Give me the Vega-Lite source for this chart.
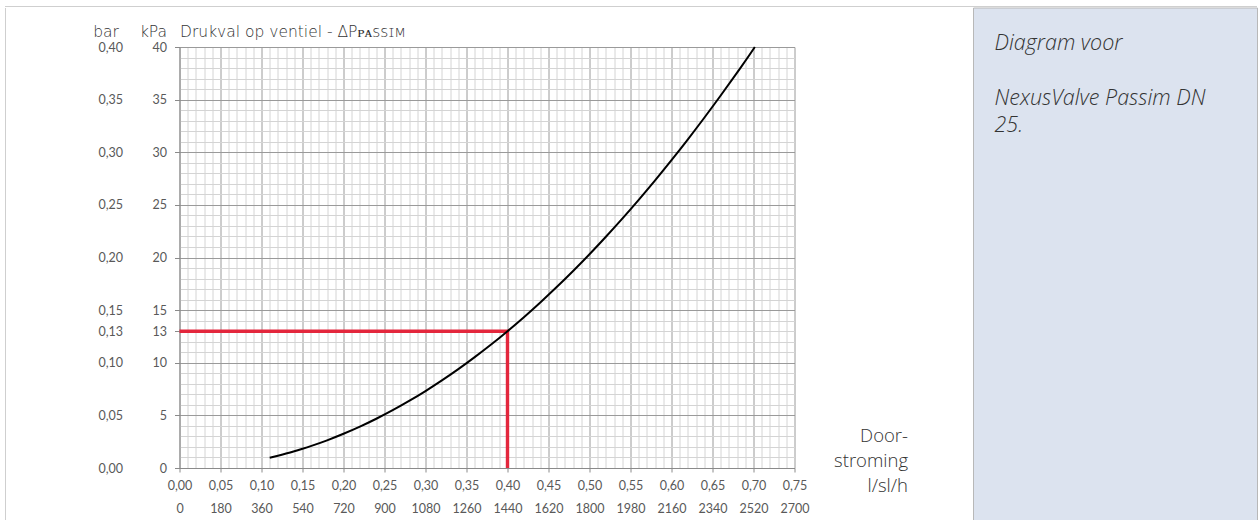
{
  "$schema": "https://vega.github.io/schema/vega-lite/v6.json",
  "padding": {"left": 5, "top": 6, "right": 0, "bottom": 0},
  "config": {
    "font": "Open Sans",
    "view": {"stroke": null},
    "axis": {
      "labelFont": "Lato",
      "labelFontSize": 12.5,
      "labelColor": "#595959",
      "titleFont": "Open Sans",
      "titleFontWeight": 300,
      "titleColor": "#333333",
      "titleFontSize": 17
    }
  },
  "spacing": 0,
  "vconcat": [
    {
      "width": 1252,
      "height": 1,
      "data": {"values": [{}]},
      "mark": {"type": "rect", "fill": "#cfcfcf"}
    },
    {
      "columns": 2,
      "align": "none",
      "spacing": 86.5,
      "concat": [
        {
          "width": 1,
          "height": 513,
          "data": {"values": [{}]},
          "mark": {"type": "rect", "fill": "#cfcfcf"}
        },
        {
          "columns": 2,
          "align": "none",
          "spacing": 65,
          "concat": [
            {
              "spacing": 0,
              "vconcat": [
                {
                  "width": 1,
                  "height": 16,
                  "data": {"values": [{}]},
                  "mark": {"type": "rect", "opacity": 0}
                },
                {
                  "width": 615,
                  "height": 421,
                  "layer": [
                    {
                      "data": {
                        "values": [
                          {"punt": 1, "debiet": 0, "kPa": 13},
                          {"punt": 2, "debiet": 0.4, "kPa": 13},
                          {"punt": 3, "debiet": 0.4, "kPa": 0}
                        ]
                      },
                      "mark": {"type": "line", "color": "#e3263c", "strokeWidth": 3.4, "strokeJoin": "miter", "strokeCap": "butt"},
                      "encoding": {
                        "x": {
                          "field": "debiet",
                          "type": "quantitative",
                          "axis": {
                            "orient": "top",
                            "domain": false,
                            "ticks": false,
                            "labels": false,
                            "grid": false,
                            "title": "Drukval op ventiel - ΔPᴘᴀꜱꜱɪᴍ",
                            "titleFont": "DejaVu Sans",
                            "titleFontWeight": 200,
                            "titleFontSize": 15.5,
                            "titleAngle": 0,
                            "titleAlign": "left",
                            "titleBaseline": "alphabetic",
                            "titleX": 0,
                            "titleY": -11
                          }
                        },
                        "y": {
                          "field": "kPa",
                          "type": "quantitative",
                          "axis": {
                            "orient": "left",
                            "values": [0, 5, 10, 13, 15, 20, 25, 30, 35, 40],
                            "domain": false,
                            "ticks": false,
                            "grid": false,
                            "labelPadding": 57,
                            "labelExpr": "replace(format(datum.value / 100, '.2f'), '.', ',')",
                            "title": "bar",
                            "titleFont": "DejaVu Sans",
                            "titleFontWeight": 200,
                            "titleFontSize": 15.5,
                            "titleAngle": 0,
                            "titleAlign": "right",
                            "titleBaseline": "alphabetic",
                            "titleX": -61,
                            "titleY": -11
                          }
                        },
                        "order": {"field": "punt"}
                      }
                    },
                    {
                      "data": {
                        "values": [
                          {"debiet": 0.11, "kPa": 0.98},
                          {"debiet": 0.12, "kPa": 1.17},
                          {"debiet": 0.13, "kPa": 1.37},
                          {"debiet": 0.14, "kPa": 1.59},
                          {"debiet": 0.15, "kPa": 1.83},
                          {"debiet": 0.16, "kPa": 2.08},
                          {"debiet": 0.18, "kPa": 2.63},
                          {"debiet": 0.2, "kPa": 3.25},
                          {"debiet": 0.22, "kPa": 3.93},
                          {"debiet": 0.24, "kPa": 4.68},
                          {"debiet": 0.26, "kPa": 5.49},
                          {"debiet": 0.28, "kPa": 6.37},
                          {"debiet": 0.3, "kPa": 7.31},
                          {"debiet": 0.32, "kPa": 8.32},
                          {"debiet": 0.34, "kPa": 9.39},
                          {"debiet": 0.36, "kPa": 10.53},
                          {"debiet": 0.38, "kPa": 11.73},
                          {"debiet": 0.4, "kPa": 13.0},
                          {"debiet": 0.42, "kPa": 14.33},
                          {"debiet": 0.44, "kPa": 15.73},
                          {"debiet": 0.46, "kPa": 17.19},
                          {"debiet": 0.48, "kPa": 18.72},
                          {"debiet": 0.5, "kPa": 20.31},
                          {"debiet": 0.52, "kPa": 21.97},
                          {"debiet": 0.54, "kPa": 23.69},
                          {"debiet": 0.56, "kPa": 25.48},
                          {"debiet": 0.58, "kPa": 27.33},
                          {"debiet": 0.6, "kPa": 29.25},
                          {"debiet": 0.62, "kPa": 31.23},
                          {"debiet": 0.64, "kPa": 33.28},
                          {"debiet": 0.66, "kPa": 35.39},
                          {"debiet": 0.68, "kPa": 37.57},
                          {"debiet": 0.7, "kPa": 39.81},
                          {"debiet": 0.7016, "kPa": 40.0}
                        ]
                      },
                      "mark": {"type": "line", "color": "#000000", "strokeWidth": 2, "interpolate": "monotone"},
                      "encoding": {
                        "x": {
                          "field": "debiet",
                          "type": "quantitative",
                          "scale": {"domain": [0, 0.75], "nice": false, "zero": false},
                          "axis": {
                            "orient": "bottom",
                            "values": [0, 0.01, 0.02, 0.03, 0.04, 0.05, 0.06, 0.07, 0.08, 0.09, 0.1, 0.11, 0.12, 0.13, 0.14, 0.15, 0.16, 0.17, 0.18, 0.19, 0.2, 0.21, 0.22, 0.23, 0.24, 0.25, 0.26, 0.27, 0.28, 0.29, 0.3, 0.31, 0.32, 0.33, 0.34, 0.35, 0.36, 0.37, 0.38, 0.39, 0.4, 0.41, 0.42, 0.43, 0.44, 0.45, 0.46, 0.47, 0.48, 0.49, 0.5, 0.51, 0.52, 0.53, 0.54, 0.55, 0.56, 0.57, 0.58, 0.59, 0.6, 0.61, 0.62, 0.63, 0.64, 0.65, 0.66, 0.67, 0.68, 0.69, 0.7, 0.71, 0.72, 0.73, 0.74, 0.75],
                            "grid": true,
                            "gridColor": {"condition": {"test": "abs(datum.value * 20 - round(datum.value * 20)) < 0.000001", "value": "#9a9a9a"}, "value": "#d4d4d4"},
                            "gridWidth": 1,
                            "domainColor": "#8a8a8a",
                            "tickSize": 4,
                            "tickColor": {"condition": {"test": "abs(datum.value * 20 - round(datum.value * 20)) < 0.000001", "value": "#8a8a8a"}, "value": "transparent"},
                            "labelExpr": "abs(datum.value * 20 - round(datum.value * 20)) < 0.000001 ? [replace(format(datum.value, '.2f'), '.', ','), format(round(datum.value * 3600), 'd')] : ''",
                            "labelLineHeight": 23,
                            "labelPadding": 7,
                            "labelFlush": false,
                            "labelOverlap": false,
                            "labelBound": false,
                            "title": ["Door-", "stroming", "l/sl/h"],
                            "titleAngle": 0,
                            "titleAlign": "right",
                            "titleBaseline": "alphabetic",
                            "titleX": 728,
                            "titleY": -27,
                            "titleLineHeight": 25,
                            "titleFontSize": 18.5
                          }
                        },
                        "y": {
                          "field": "kPa",
                          "type": "quantitative",
                          "scale": {"domain": [0, 40], "nice": false, "zero": false},
                          "axis": {
                            "orient": "left",
                            "values": [0, 1, 2, 3, 4, 5, 6, 7, 8, 9, 10, 11, 12, 13, 14, 15, 16, 17, 18, 19, 20, 21, 22, 23, 24, 25, 26, 27, 28, 29, 30, 31, 32, 33, 34, 35, 36, 37, 38, 39, 40],
                            "grid": true,
                            "gridColor": {"condition": {"test": "datum.value % 5 === 0", "value": "#9a9a9a"}, "value": "#d4d4d4"},
                            "gridWidth": 1,
                            "domainColor": "#8a8a8a",
                            "tickSize": 5,
                            "tickColor": {"condition": {"test": "indexof([0, 5, 10, 13, 15, 20, 25, 30, 35, 40], datum.value) >= 0", "value": "#8a8a8a"}, "value": "transparent"},
                            "labelExpr": "indexof([0, 5, 10, 13, 15, 20, 25, 30, 35, 40], datum.value) >= 0 ? datum.value + '' : ''",
                            "labelPadding": 8,
                            "labelOverlap": false,
                            "labelBound": false,
                            "labelFlush": false,
                            "title": "kPa",
                            "titleFont": "DejaVu Sans",
                            "titleFontWeight": 200,
                            "titleFontSize": 15.5,
                            "titleAngle": 0,
                            "titleAlign": "right",
                            "titleBaseline": "alphabetic",
                            "titleX": -13,
                            "titleY": -11
                          }
                        }
                      }
                    }
                  ],
                  "resolve": {"axis": {"x": "independent", "y": "independent"}}
                }
              ]
            },
            {
              "width": 284,
              "height": 513,
              "layer": [
                {
                  "data": {"values": [{}]},
                  "mark": {"type": "rect", "fill": "#dce3ef", "stroke": "#b8b8b8", "strokeWidth": 1}
                },
                {
                  "data": {
                    "values": [
                      {"regel": 1, "tekst": "Diagram voor"},
                      {"regel": 3, "tekst": "NexusValve Passim DN"},
                      {"regel": 4, "tekst": "25."}
                    ]
                  },
                  "mark": {"type": "text", "align": "left", "baseline": "alphabetic", "dx": 21, "font": "Open Sans", "fontSize": 21.5, "fontStyle": "italic", "fontWeight": 300, "color": "#333333"},
                  "encoding": {
                    "x": {"datum": 0, "type": "quantitative", "scale": {"domain": [0, 1]}, "axis": null},
                    "y": {"field": "regel", "type": "quantitative", "scale": {"domain": [-0.52, 18.16], "reverse": true}, "axis": null},
                    "text": {"field": "tekst"}
                  }
                }
              ]
            }
          ]
        }
      ]
    }
  ]
}
